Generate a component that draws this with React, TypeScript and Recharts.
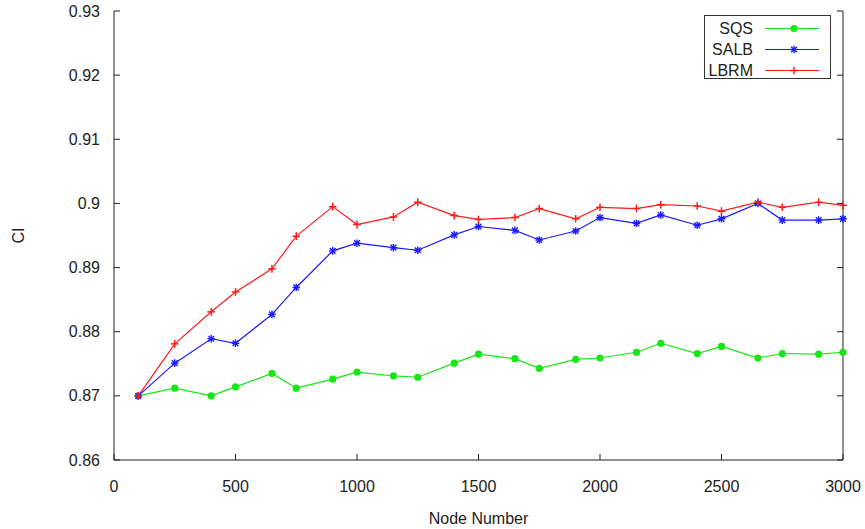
import { LineChart, Line, XAxis, YAxis, Label } from "recharts"

const nodeNumbers = [
  100, 250, 400, 500, 650, 750, 900, 1000, 1150, 1250, 1400, 1500, 1650, 1750, 1900, 2000, 2150,
  2250, 2400, 2500, 2650, 2750, 2900, 3000,
]
const sqs = [
  0.87, 0.8712, 0.87, 0.8714, 0.8735, 0.8712, 0.8726, 0.8737, 0.8731, 0.8729, 0.8751, 0.8765,
  0.8758, 0.8743, 0.8757, 0.8759, 0.8768, 0.8782, 0.8766, 0.8777, 0.8759, 0.8766, 0.8765, 0.8768,
]
const salb = [
  0.87, 0.8751, 0.8789, 0.8782, 0.8827, 0.8869, 0.8926, 0.8938, 0.8931, 0.8927, 0.8951, 0.8964,
  0.8958, 0.8943, 0.8957, 0.8978, 0.8969, 0.8982, 0.8966, 0.8976, 0.9, 0.8974, 0.8974, 0.8976,
]
const lbrm = [
  0.87, 0.8781, 0.8831, 0.8862, 0.8898, 0.8949, 0.8995, 0.8967, 0.8979, 0.9002, 0.8981, 0.8975,
  0.8978, 0.8992, 0.8976, 0.8994, 0.8992, 0.8998, 0.8996, 0.8988, 0.9002, 0.8994, 0.9002, 0.8997,
]
const xTicks = [0, 500, 1000, 1500, 2000, 2500, 3000]
const yTicks = [0.86, 0.87, 0.88, 0.89, 0.9, 0.91, 0.92, 0.93]
const yTickLabels = ["0.86", "0.87", "0.88", "0.89", "0.9", "0.91", "0.92", "0.93"]

const FONT = "'Liberation Sans', Arial, sans-serif"
const FS = 16
const TEXT = "#222"
const AXIS = "#222"
const TICK_LEN = 6

const series = [
  { key: "sqs", name: "SQS", color: "#16e616", marker: "circle" },
  { key: "salb", name: "SALB", color: "#1a1aff", marker: "star" },
  { key: "lbrm", name: "LBRM", color: "#ff1a1a", marker: "plus" },
]

const data = nodeNumbers.map((n, i) => ({ n, sqs: sqs[i], salb: salb[i], lbrm: lbrm[i] }))

function Marker({ cx, cy, type, color }: { cx: number; cy: number; type: string; color: string }) {
  if (type === "circle") return <circle cx={cx} cy={cy} r={3.6} fill={color} stroke="none" />
  const s = 3.8
  if (type === "plus")
    return (
      <g stroke={color} strokeWidth={1.5}>
        <line x1={cx - s} y1={cy} x2={cx + s} y2={cy} />
        <line x1={cx} y1={cy - s} x2={cx} y2={cy + s} />
      </g>
    )
  const d = s * 0.75
  return (
    <g stroke={color} strokeWidth={1.4}>
      <line x1={cx - s} y1={cy} x2={cx + s} y2={cy} />
      <line x1={cx} y1={cy - s} x2={cx} y2={cy + s} />
      <line x1={cx - d} y1={cy - d} x2={cx + d} y2={cy + d} />
      <line x1={cx - d} y1={cy + d} x2={cx + d} y2={cy - d} />
    </g>
  )
}

// ticks point inward like gnuplot, labels sit outside
const LeftTick = (props: any) => {
  const { x, y, index } = props
  const ax = x + 14
  return (
    <g>
      <line x1={ax} y1={y} x2={ax + TICK_LEN} y2={y} stroke={AXIS} />
      <text x={x} y={y} dy="0.35em" textAnchor="end" fontSize={FS} fill={TEXT} fontFamily={FONT}>
        {yTickLabels[index]}
      </text>
    </g>
  )
}

const BottomTick = (props: any) => {
  const { x, y, payload } = props
  const ay = y - 26
  return (
    <g>
      <line x1={x} y1={ay} x2={x} y2={ay - TICK_LEN} stroke={AXIS} />
      <text x={x} y={y} dy="0.35em" textAnchor="middle" fontSize={FS} fill={TEXT} fontFamily={FONT}>
        {payload.value}
      </text>
    </g>
  )
}

const RightTick = (props: any) => {
  const { x, y } = props
  return <line x1={x} y1={y} x2={x - TICK_LEN} y2={y} stroke={AXIS} />
}

const TopTick = (props: any) => {
  const { x, y } = props
  return <line x1={x} y1={y} x2={x} y2={y + TICK_LEN} stroke={AXIS} />
}

function LegendBox() {
  return (
    <div
      style={{
        position: "absolute",
        left: 704,
        top: 15,
        width: 125,
        height: 62,
        border: "1px solid #333",
        background: "#fff",
        fontFamily: FONT,
        fontSize: FS,
        color: TEXT,
      }}
    >
      {series.map((s, i) => (
        <div key={s.key} style={{ display: "flex", alignItems: "center", height: 21, marginTop: i === 0 ? 2 : 0 }}>
          <span style={{ width: 48, textAlign: "right", lineHeight: "21px" }}>{s.name}</span>
          <svg width={56} height={21} style={{ marginLeft: 12 }}>
            <line x1={0} y1={10.5} x2={54} y2={10.5} stroke={s.color} strokeWidth={1.2} />
            <Marker cx={29} cy={10.5} type={s.marker} color={s.color} />
          </svg>
        </div>
      ))}
    </div>
  )
}

export default function App() {
  return (
    <div style={{ position: "absolute", left: 0, top: 0, width: 865, height: 529, background: "#fff" }}>
      <LineChart width={865} height={529} data={data} margin={{ top: 11, right: 0, bottom: 0, left: 0 }}>
        <XAxis
          dataKey="n"
          type="number"
          domain={[0, 3000]}
          ticks={xTicks}
          height={69}
          axisLine={{ stroke: AXIS }}
          tickLine={false}
          tickSize={0}
          tickMargin={26}
          tick={<BottomTick />}
          interval={0}
        >
          <Label
            content={(p: any) => (
              <text
                x={p.viewBox.x + p.viewBox.width / 2}
                y={p.viewBox.y + 58}
                dy="0.35em"
                textAnchor="middle"
                fontSize={FS}
                fill={TEXT}
                fontFamily={FONT}
              >
                Node Number
              </text>
            )}
          />
        </XAxis>
        <XAxis
          xAxisId="top"
          orientation="top"
          type="number"
          domain={[0, 3000]}
          ticks={xTicks}
          height={0}
          axisLine={{ stroke: AXIS }}
          tickLine={false}
          tickSize={0}
          tickMargin={0}
          tick={<TopTick />}
          allowDataOverflow
          interval={0}
        />
        <YAxis
          type="number"
          domain={[0.86, 0.93]}
          ticks={yTicks}
          width={114}
          axisLine={{ stroke: AXIS }}
          tickLine={false}
          tickSize={0}
          tickMargin={14}
          tick={<LeftTick />}
          interval={0}
          allowDataOverflow
        >
          <Label
            content={(p: any) => (
              <text
                x={18}
                y={p.viewBox.y + p.viewBox.height / 2}
                transform={`rotate(-90 18 ${p.viewBox.y + p.viewBox.height / 2})`}
                dy="0.35em"
                textAnchor="middle"
                fontSize={FS}
                fill={TEXT}
                fontFamily={FONT}
              >
                CI
              </text>
            )}
          />
        </YAxis>
        <YAxis
          yAxisId="right"
          orientation="right"
          type="number"
          domain={[0.86, 0.93]}
          ticks={yTicks}
          width={22}
          axisLine={{ stroke: AXIS }}
          tickLine={false}
          tickSize={0}
          tickMargin={0}
          tick={<RightTick />}
          interval={0}
          allowDataOverflow
        />
        {series.map((s) => (
          <Line
            key={s.key}
            dataKey={s.key}
            name={s.name}
            stroke={s.color}
            strokeWidth={1.2}
            isAnimationActive={false}
            dot={(p: any) => <Marker key={`${s.key}-${p.index}`} cx={p.cx} cy={p.cy} type={s.marker} color={s.color} />}
            activeDot={false}
          />
        ))}
      </LineChart>
      <LegendBox />
    </div>
  )
}
